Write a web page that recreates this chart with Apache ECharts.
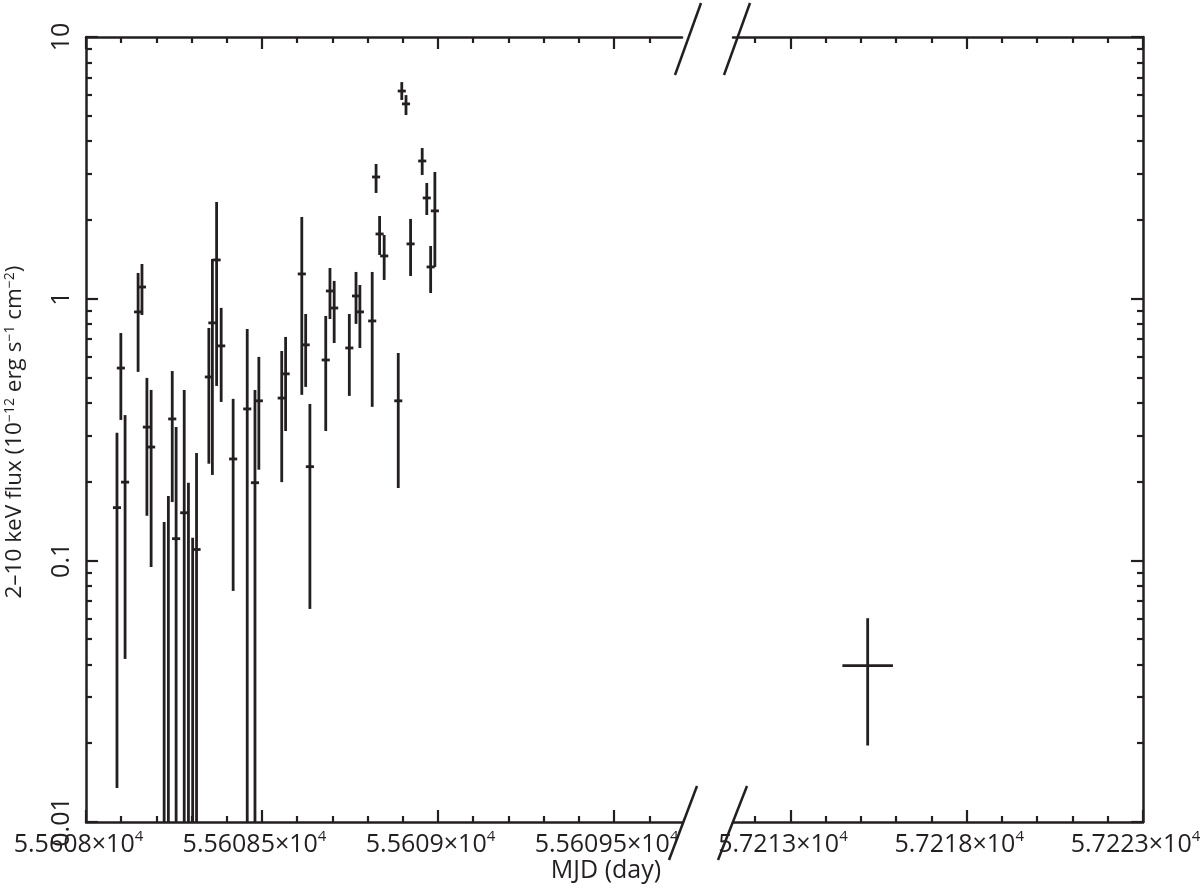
<!DOCTYPE html>
<html>
<head>
<meta charset="utf-8">
<script src="https://cdn.jsdelivr.net/npm/echarts@6/dist/echarts.min.js"></script>
<style>
html,body{margin:0;padding:0;background:#fff;}
#chart{width:1200px;height:891px;}
</style>
</head>
<body>
<div id="chart"></div>
<script>
// ---- Data ----
// Left panel (MJD 55608 - 55609.7)
const mjdLeft = [55608.088, 55608.099, 55608.111, 55608.148, 55608.159, 55608.173, 55608.185,
  55608.222, 55608.234, 55608.245, 55608.256, 55608.279, 55608.291, 55608.303, 55608.314,
  55608.349, 55608.359, 55608.371, 55608.384, 55608.418, 55608.458, 55608.480, 55608.491,
  55608.556, 55608.567, 55608.613, 55608.624, 55608.636, 55608.681, 55608.693, 55608.705,
  55608.748, 55608.767, 55608.778, 55608.813, 55608.824, 55608.834, 55608.847, 55608.887,
  55608.897, 55608.909, 55608.922, 55608.955, 55608.968, 55608.979, 55608.991];
const fluxLeft = [0.159, 0.543, 0.199, 0.890, 1.108, 0.323, 0.271,
  0.006, 0.006, 0.347, 0.121, 0.152, 0.006, 0.006, 0.110,
  0.502, 0.808, 1.406, 0.660, 0.244, 0.379, 0.198, 0.407,
  0.417, 0.516, 1.243, 0.666, 0.228, 0.583, 1.070, 0.921,
  0.648, 1.024, 0.890, 0.822, 2.918, 1.767, 1.456, 0.407,
  6.216, 5.551, 1.619, 3.359, 2.426, 1.322, 2.165];
const fluxLowLeft = [0.0135, 0.344, 0.0420, 0.525, 0.866, 0.148, 0.0943,
  0.001, 0.001, 0.167, 0.001, 0.001, 0.001, 0.001, 0.001,
  0.234, 0.212, 0.464, 0.403, 0.0764, 0.001, 0.001, 0.222,
  0.199, 0.312, 0.429, 0.460, 0.0652, 0.312, 0.836, 0.677,
  0.425, 0.801, 0.648, 0.386, 2.535, 1.469, 1.179, 0.189,
  5.745, 5.035, 1.221, 2.970, 2.088, 1.051, 1.322];
const fluxHighLeft = [0.307, 0.739, 0.359, 1.254, 1.357, 0.498, 0.448,
  0.140, 0.176, 0.529, 0.323, 0.448, 0.198, 0.122, 0.257,
  0.773, 1.418, 2.342, 0.922, 0.414, 0.766, 0.448, 0.599,
  0.631, 0.714, 2.052, 0.874, 0.396, 0.859, 1.310, 1.169,
  0.874, 1.265, 1.128, 1.265, 3.272, 2.070, 1.751, 0.620,
  6.726, 5.997, 2.017, 3.766, 2.768, 1.590, 3.050];
const mjdErrLeft = 0.0115;

// Right panel (MJD ~57211.4 - 57223)
const mjdRight = [57215.19];
const fluxRight = [0.0396];
const fluxLowRight = [0.0196];
const fluxHighRight = [0.0601];
const mjdErrRight = [0.717];

// Tick values and labels
const leftMajor = [55608, 55608.5, 55609, 55609.5];
const leftMajorLabels = ['5.5608', '5.56085', '5.5609', '5.56095'];
const leftMinor = [55608.1, 55608.2, 55608.3, 55608.4, 55608.6, 55608.7, 55608.8, 55608.9,
  55609.1, 55609.2, 55609.3, 55609.4, 55609.6];
const rightMajor = [57213, 57218, 57223];
const rightMajorLabels = ['5.7213', '5.7218', '5.7223'];
const rightMinor = [57212, 57214, 57215, 57216, 57217, 57219, 57220, 57221, 57222];
const yMajor = [0.01, 0.1, 1, 10];
const yMajorLabels = ['0.01', '0.1', '1', '10'];
const yMinor = [0.02, 0.03, 0.04, 0.05, 0.06, 0.07, 0.08, 0.09,
  0.2, 0.3, 0.4, 0.5, 0.6, 0.7, 0.8, 0.9,
  2, 3, 4, 5, 6, 7, 8, 9];

// ---- Chart ----
const INK = '#231f20';
const FONT = 'Open Sans';
const chart = echarts.init(document.getElementById('chart'), null, {renderer: 'canvas'});

const leftData = mjdLeft.map((m, i) => [m, fluxLeft[i], mjdErrLeft, fluxLowLeft[i], fluxHighLeft[i]]);
const rightData = mjdRight.map((m, i) => [m, fluxRight[i], mjdErrRight[i], fluxLowRight[i], fluxHighRight[i]]);

function renderErr(params, api) {
  const x = api.value(0), y = api.value(1), xe = api.value(2), lo = api.value(3), hi = api.value(4);
  const a = api.coord([x, lo]), b = api.coord([x, hi]);
  const l = api.coord([x - xe, y]), r = api.coord([x + xe, y]);
  const st = {stroke: INK, lineWidth: 2.8};
  return {type: 'group', children: [
    {type: 'line', shape: {x1: a[0], y1: a[1], x2: b[0], y2: b[1]}, style: st},
    {type: 'line', shape: {x1: l[0], y1: l[1], x2: r[0], y2: r[1]}, style: st}
  ]};
}

const lineStyle = {color: INK, width: 2.5};
const labelRich = {
  m: {fontSize: 25, fontFamily: FONT, color: INK, lineHeight: 31},
  s: {fontSize: 15, fontFamily: FONT, color: INK, verticalAlign: 'top', lineHeight: 14, padding: [0, 15, 0, 0]}
};

function xAxisPair(gridIndex, min, max, major, majorLabels, minor, position, withLabels) {
  return [
    {
      type: 'value', gridIndex, position, min, max,
      axisLine: {show: true, lineStyle},
      axisTick: {show: true, inside: true, length: 12, lineStyle: {color: INK, width: 2.2}, customValues: major},
      axisLabel: withLabels ? {
        show: true, margin: 7, customValues: major,
        formatter: v => {
          const idx = major.findIndex(t => Math.abs(t - v) < 1e-6);
          return idx < 0 ? '' : '{m|' + majorLabels[idx] + '×10}{s|4}';
        },
        rich: labelRich
      } : {show: false},
      splitLine: {show: false}
    },
    {
      type: 'value', gridIndex, position, min, max,
      axisLine: {show: false},
      axisTick: {show: true, inside: true, length: 6, lineStyle: {color: INK, width: 2.2}, customValues: minor},
      axisLabel: {show: false},
      splitLine: {show: false}
    }
  ];
}

function yAxisPair(gridIndex, position, withLabels) {
  return [
    {
      type: 'log', logBase: 10, gridIndex, position, min: 0.01, max: 10,
      axisLine: {show: true, lineStyle},
      axisTick: {show: true, inside: true, length: 12, lineStyle: {color: INK, width: 2.2}, customValues: yMajor},
      axisLabel: withLabels ? {
        show: true, rotate: 90, margin: 12, customValues: yMajor,
        fontSize: 25, fontFamily: FONT, color: INK,
        formatter: v => {
          const idx = yMajor.findIndex(t => Math.abs(Math.log10(t) - Math.log10(v)) < 1e-6);
          return idx < 0 ? '' : yMajorLabels[idx];
        }
      } : {show: false},
      splitLine: {show: false}
    },
    {
      type: 'log', logBase: 10, gridIndex, position, min: 0.01, max: 10,
      axisLine: {show: false},
      axisTick: {show: true, inside: true, length: 6, lineStyle: {color: INK, width: 2.2}, customValues: yMinor},
      axisLabel: {show: false},
      splitLine: {show: false}
    }
  ];
}

const LMIN = 55608, LMAX = 55609.693, RMIN = 57211.37, RMAX = 57223;

const option = {
  animation: false,
  backgroundColor: '#fff',
  grid: [
    {left: 86, top: 37, width: 596, height: 785, containLabel: false, outerBoundsMode: 'none'},
    {left: 733, top: 37, width: 410, height: 785, containLabel: false, outerBoundsMode: 'none'}
  ],
  xAxis: [
    ...xAxisPair(0, LMIN, LMAX, leftMajor, leftMajorLabels, leftMinor, 'bottom', true),
    ...xAxisPair(0, LMIN, LMAX, leftMajor, leftMajorLabels, leftMinor, 'top', false),
    ...xAxisPair(1, RMIN, RMAX, rightMajor, rightMajorLabels, rightMinor, 'bottom', true),
    ...xAxisPair(1, RMIN, RMAX, rightMajor, rightMajorLabels, rightMinor, 'top', false)
  ],
  yAxis: [
    ...yAxisPair(0, 'left', true),
    ...yAxisPair(1, 'right', false)
  ],
  series: [
    {type: 'custom', name: 'left', xAxisIndex: 0, yAxisIndex: 0, clip: true,
     renderItem: renderErr, data: leftData, encode: {x: 0, y: 1}},
    {type: 'custom', name: 'right', xAxisIndex: 4, yAxisIndex: 2, clip: true,
     renderItem: renderErr, data: rightData, encode: {x: 0, y: 1}}
  ],
  graphic: [
    // axis break marks
    {type: 'line', shape: {x1: 675, y1: 75, x2: 701, y2: 3}, style: {stroke: INK, lineWidth: 2.5}},
    {type: 'line', shape: {x1: 724, y1: 75, x2: 750, y2: 3}, style: {stroke: INK, lineWidth: 2.5}},
    {type: 'line', shape: {x1: 669, y1: 860, x2: 697, y2: 786}, style: {stroke: INK, lineWidth: 2.5}},
    {type: 'line', shape: {x1: 718, y1: 860, x2: 747, y2: 786}, style: {stroke: INK, lineWidth: 2.5}},
    // axis titles
    {type: 'text', x: 606, y: 871, style: {text: 'MJD (day)', font: '25px "Open Sans"', fill: INK,
      align: 'center', verticalAlign: 'middle'}},
    {type: 'text', x: 15, y: 432, rotation: Math.PI / 2,
      style: {
        text: '2–10 keV flux (10{s|−12} erg s{s|−1} cm{s|−2})',
        font: '22.5px "Open Sans"', fill: INK, align: 'center', verticalAlign: 'middle',
        rich: {s: {fontSize: 14, fontFamily: FONT, fill: INK, verticalAlign: 'top', lineHeight: 12}}
      }}
  ]
};
chart.setOption(option);
</script>
</body>
</html>
